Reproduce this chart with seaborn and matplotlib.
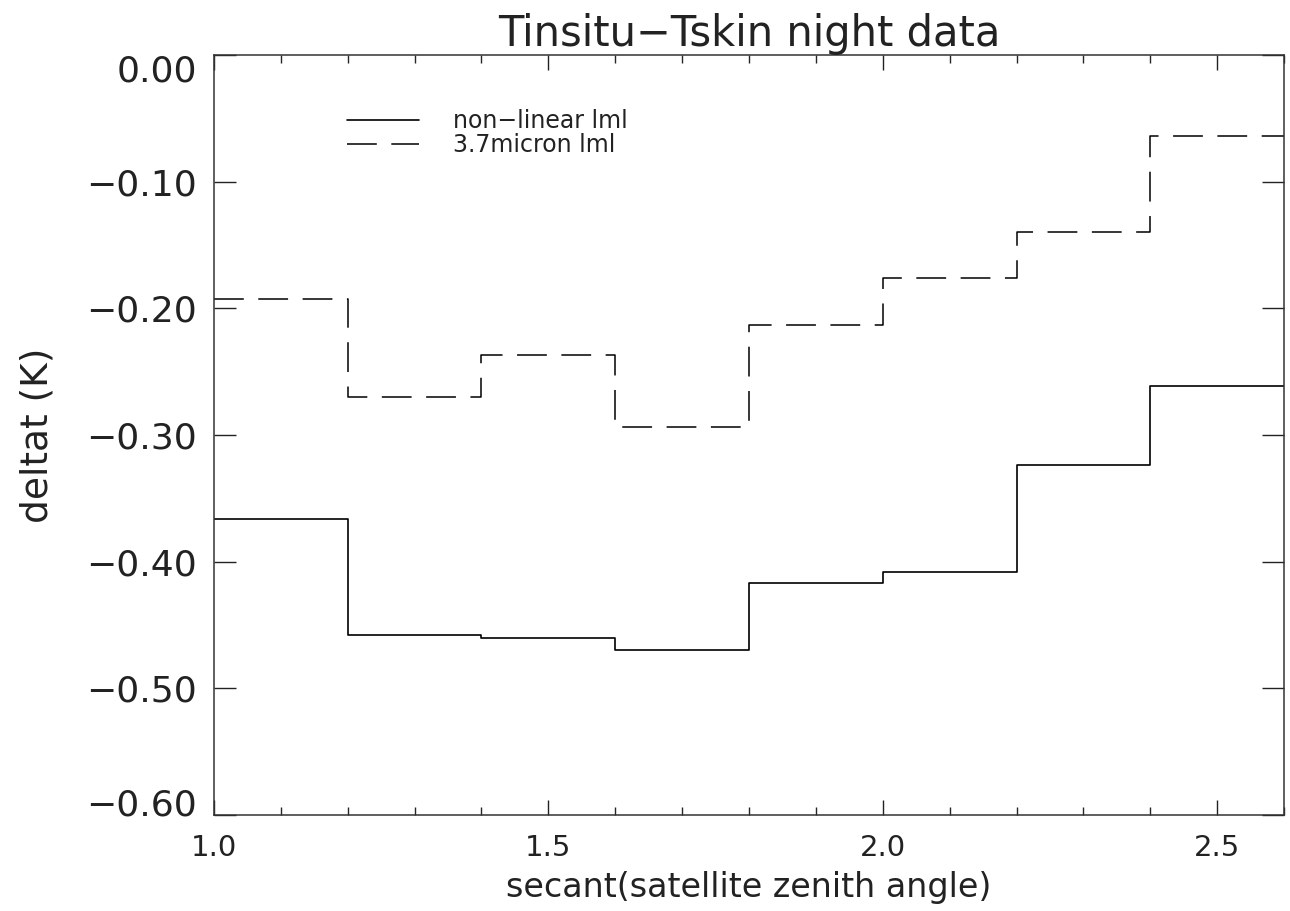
import numpy as np
import pandas as pd
import matplotlib
matplotlib.use("Agg")
import matplotlib.pyplot as plt
from matplotlib.ticker import MultipleLocator, FuncFormatter
import seaborn as sns

# ---- data ----
bin_edges = [1.0, 1.2, 1.4, 1.6, 1.8, 2.0, 2.2, 2.4, 2.6]
nonlinear_lml = [-0.366, -0.458, -0.460, -0.470, -0.417, -0.408, -0.324, -0.261]
micron37_lml = [-0.193, -0.270, -0.237, -0.294, -0.213, -0.176, -0.140, -0.064]
series_names = ["non\u2212linear lml", "3.7micron lml"]
y_ticks = [-0.60, -0.50, -0.40, -0.30, -0.20, -0.10, 0.00]
title = "Tinsitu\u2212Tskin night data"
xlabel = "secant(satellite zenith angle)"
ylabel = "deltat (K)"

sns.set_theme(style="ticks")
plt.rcParams["font.family"] = ["DejaVu Sans"]

TXT = "#222222"

def step_frame(vals, name):
    # step curve: each bin value held until the next edge (last value repeated at final edge)
    return pd.DataFrame({"x": bin_edges, "y": list(vals) + [vals[-1]], "series": name})

df1 = step_frame(nonlinear_lml, series_names[0])
df2 = step_frame(micron37_lml, series_names[1])

fig = plt.figure(figsize=(12.9, 9.11), dpi=100)
ax = fig.add_axes([214/1290, 1-815/911, 1070/1290, 760/911])

sns.lineplot(data=df1, x="x", y="y", ax=ax, color="black", lw=1.2,
             drawstyle="steps-post", label=series_names[0], estimator=None, sort=False)
sns.lineplot(data=df2, x="x", y="y", ax=ax, color="black", lw=1.1,
             drawstyle="steps-post", label=series_names[1], estimator=None, sort=False,
             dashes=False)
ax.lines[1].set_dashes((19.5, 9.5))

ax.set_xlim(1.0, 2.6)
ax.set_ylim(y_ticks[0], y_ticks[-1])

def ystr(v):
    if abs(v) < 1e-9:
        v = 0.0
    return f"{v:.2f}".replace("-", "\u2212")

def yfmt(v, pos):
    # end labels are drawn separately (shifted inward, as in the original)
    if abs(v - y_ticks[0]) < 1e-9 or abs(v - y_ticks[-1]) < 1e-9:
        return ""
    return ystr(v)

ax.xaxis.set_major_locator(MultipleLocator(0.5))
ax.xaxis.set_minor_locator(MultipleLocator(0.1))
ax.xaxis.set_major_formatter(FuncFormatter(lambda v, p: f"{v:.1f}"))
ax.set_yticks(y_ticks)
ax.yaxis.set_major_formatter(FuncFormatter(yfmt))

YPAD = 12
YSIZE = 26
ax.tick_params(axis="x", which="major", direction="in", length=11, width=1,
               top=True, bottom=True, labelsize=21, pad=14, colors=TXT)
ax.tick_params(axis="x", which="minor", direction="in", length=6, width=1,
               top=True, bottom=True)
ax.tick_params(axis="y", which="major", direction="in", length=16, width=1,
               left=True, right=True, labelsize=YSIZE, pad=YPAD, colors=TXT)
ax.tick_params(axis="y", which="minor", left=False, right=False)

tr, _, _ = ax.get_yaxis_text1_transform(YPAD)
ax.text(0, y_ticks[0], ystr(y_ticks[0]), transform=tr, ha="right", va="baseline",
        fontsize=YSIZE, color=TXT)
ax.text(0, y_ticks[-1], ystr(y_ticks[-1]), transform=tr, ha="right", va="top",
        fontsize=YSIZE, color=TXT)

for s in ax.spines.values():
    s.set_visible(True)
    s.set_linewidth(1.1)
    s.set_color("#333333")

ax.set_title(title, fontsize=30, color=TXT, pad=6)
ax.set_xlabel(xlabel, fontsize=24, color=TXT)
ax.xaxis.set_label_coords(0.5, -0.074)
ax.set_ylabel(ylabel, fontsize=27, color=TXT)
ax.yaxis.set_label_coords(-0.148, 0.5)

leg = ax.legend(loc="upper left", bbox_to_anchor=(0.124, 0.929), frameon=False,
                fontsize=17, handlelength=3.05, handletextpad=1.45, labelspacing=0.0,
                borderpad=0, borderaxespad=0)
for t in leg.get_texts():
    t.set_color(TXT)

fig.savefig("out.png", dpi=100, facecolor="white")
